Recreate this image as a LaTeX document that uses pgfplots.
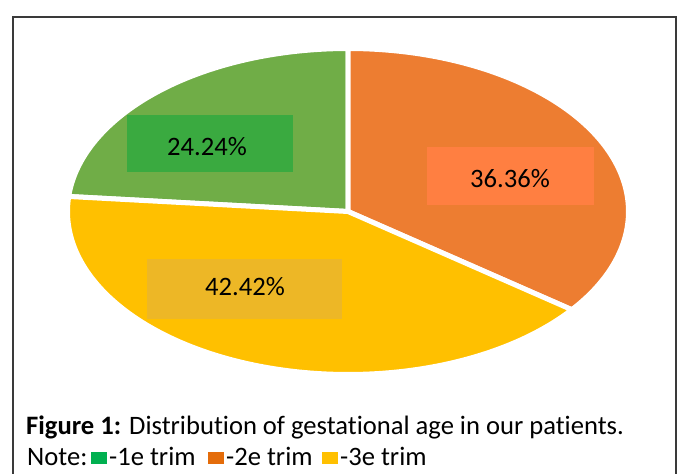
\documentclass[border=0pt]{standalone}
\usepackage{pgfplots}
\pgfplotsset{compat=1.18}
\usepackage{fontspec}
\setmainfont{Carlito}[Ligatures=NoCommon, RawFeature=-liga]
\definecolor{sgreen}{HTML}{70AD47}
\definecolor{sorange}{HTML}{ED7D31}
\definecolor{syellow}{HTML}{FFC000}
\definecolor{bgreen}{HTML}{3AAA40}
\definecolor{borange}{HTML}{FF7F41}
\definecolor{byellow}{HTML}{EDB726}
\definecolor{lgreen}{HTML}{00B050}
\definecolor{lorange}{HTML}{E46C0A}
\definecolor{lyellow}{HTML}{FFC000}
\definecolor{frame}{HTML}{3A3A3A}
% data: counts of patients by trimester
\def\vA{8}   % 1e trim  (24.24%)
\def\vB{12}  % 2e trim  (36.36%)
\def\vC{14}  % 3e trim  (42.42%)
\pgfmathsetmacro\vT{\vA+\vB+\vC}
\pgfmathsetmacro\aA{90+360*\vA/\vT}
\pgfmathsetmacro\aB{90-360*\vB/\vT}
\pgfmathsetmacro\aC{\aA+360*\vC/\vT}
\def\cx{348}
\def\cy{262.5}
\def\rx{280.5}
\def\ry{163}
\begin{document}
\begin{tikzpicture}
\path[use as bounding box] (0,0) rectangle (681bp,474bp);
\begin{axis}[
  at={(0,0)}, anchor=origin,
  x=1bp, y=1bp,
  xmin=0, xmax=681, ymin=0, ymax=474,
  hide axis, clip=false,
]
% slices
\addplot[fill=sgreen, draw=white, line width=5bp, line join=round, domain=90:\aA, samples=90, variable=\t]
  ({\cx+\rx*cos(\t)},{\cy+\ry*sin(\t)}) -- (axis cs:\cx,\cy) -- cycle;
\addplot[fill=sorange, draw=white, line width=5bp, line join=round, domain=\aB:90, samples=120, variable=\t]
  ({\cx+\rx*cos(\t)},{\cy+\ry*sin(\t)}) -- (axis cs:\cx,\cy) -- cycle;
\addplot[fill=syellow, draw=white, line width=5bp, line join=round, domain=\aA:\aC, samples=140, variable=\t]
  ({\cx+\rx*cos(\t)},{\cy+\ry*sin(\t)}) -- (axis cs:\cx,\cy) -- cycle;
% label boxes
\fill[bgreen] (axis cs:127,302) rectangle (axis cs:293,359);
\fill[borange] (axis cs:427,269) rectangle (axis cs:594,327);
\fill[byellow] (axis cs:147,155) rectangle (axis cs:342,215);
\node[anchor=base, inner sep=0pt, font=\fontsize{26.6bp}{30bp}\selectfont] at (axis cs:207,319) {24.24\%};
\node[anchor=base, inner sep=0pt, font=\fontsize{26.6bp}{30bp}\selectfont] at (axis cs:510,287) {36.36\%};
\node[anchor=base, inner sep=0pt, font=\fontsize{26.6bp}{30bp}\selectfont] at (axis cs:245,179) {42.42\%};
% frame
\draw[frame, line width=2bp] (axis cs:13,0) -- (axis cs:13,457) -- (axis cs:676,457) -- (axis cs:676,0);
% caption
\node[anchor=base west, inner sep=0pt, font=\fontsize{26.6bp}{30bp}\selectfont] at (axis cs:26,40)
  {\textbf{Figure 1:} Distribution of gestational age in our patients.};
\node[anchor=base west, inner sep=0pt, font=\fontsize{26.6bp}{30bp}\selectfont] at (axis cs:27,9) {Note:};
\fill[lgreen] (axis cs:91,10) rectangle (axis cs:107,22);
\node[anchor=base west, inner sep=0pt, font=\fontsize{26.6bp}{30bp}\selectfont] at (axis cs:109,9) {-1e trim};
\fill[lorange] (axis cs:208,10) rectangle (axis cs:224,22);
\node[anchor=base west, inner sep=0pt, font=\fontsize{26.6bp}{30bp}\selectfont] at (axis cs:226,9) {-2e trim};
\fill[lyellow] (axis cs:322,10) rectangle (axis cs:338,22);
\node[anchor=base west, inner sep=0pt, font=\fontsize{26.6bp}{30bp}\selectfont] at (axis cs:340,9) {-3e trim};
\end{axis}
\end{tikzpicture}
\end{document}
